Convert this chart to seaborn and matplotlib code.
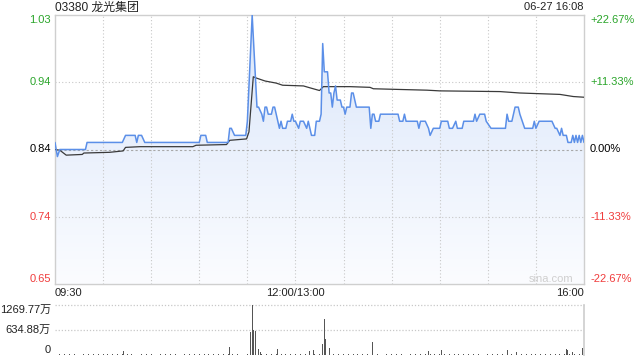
import numpy as np
import pandas as pd
import matplotlib
matplotlib.use("Agg")
import matplotlib.pyplot as plt
from matplotlib.colors import LinearSegmentedColormap
import seaborn as sns

# ---------------- data ----------------
title_text = "03380 龙光集团"
time_text = "06-27 16:08"
prev_close = 0.84
pct_steps = [-0.2267, -0.1133, 0.0, 0.1133, 0.2267]
price_labels = ["0.65", "0.74", "0.84", "0.94", "1.03"]
pct_labels = ["-22.67%", "-11.33%", "0.00%", "+11.33%", "+22.67%"]
x_tick_minutes = [0, 150, 330]
x_tick_labels = ["09:30", "12:00/13:00", "16:00"]
vol_tick_values = [0, 634.88, 1269.77]
vol_tick_labels = ["0", "634.88万", "1269.77万"]

price_minutes = [0, 1.5, 3, 19, 20, 42, 44, 50, 51, 52, 54, 56, 90, 91, 94, 95,
                 108, 109, 110, 112, 119, 120, 123, 126, 127, 129, 130, 131, 132,
                 133, 135, 136, 137, 138, 139, 140, 141, 142, 144, 145, 147, 148,
                 149, 150, 152, 153, 155, 157, 158, 159, 160, 162, 163, 165, 166,
                 167, 168, 170, 171, 172, 173, 174, 175, 176, 178, 179, 180, 181,
                 182, 184, 185, 186, 188, 196, 197, 198, 199, 200, 202, 203, 214,
                 215, 217, 218, 219, 226, 227, 228, 231, 233, 234, 236, 240, 241,
                 245, 246, 248, 250, 251, 254, 255, 261, 262, 263, 265, 268, 269,
                 272, 281, 282, 283, 285, 287, 289, 290, 293, 298, 299, 300, 302,
                 310, 312, 313, 315, 316, 317, 319, 320, 322, 323, 324, 325, 326,
                 327, 328, 329, 330]
price_values = [0.85, 0.83, 0.84, 0.84, 0.85, 0.85, 0.86, 0.86, 0.85, 0.86, 0.86, 0.85, 0.85, 0.86, 0.86, 0.85,
                0.85, 0.87, 0.87, 0.86, 0.86, 0.88, 1.03, 0.90, 0.90, 0.89, 0.88, 0.90, 0.90,
                0.89, 0.89, 0.90, 0.90, 0.89, 0.88, 0.87, 0.88, 0.87, 0.87, 0.88, 0.88, 0.89,
                0.88, 0.88, 0.87, 0.88, 0.88, 0.87, 0.88, 0.87, 0.86, 0.86, 0.88, 0.88, 0.89,
                0.99, 0.95, 0.95, 0.92, 0.92, 0.90, 0.92, 0.93, 0.91, 0.91, 0.90, 0.90, 0.89,
                0.90, 0.90, 0.92, 0.92, 0.90, 0.90, 0.87, 0.89, 0.89, 0.88, 0.88, 0.89, 0.89,
                0.88, 0.88, 0.89, 0.88, 0.88, 0.87, 0.88, 0.88, 0.87, 0.86, 0.87, 0.87, 0.88,
                0.88, 0.87, 0.87, 0.88, 0.87, 0.87, 0.88, 0.88, 0.89, 0.88, 0.89, 0.89, 0.88,
                0.87, 0.87, 0.89, 0.88, 0.88, 0.90, 0.90, 0.89, 0.87, 0.87, 0.88, 0.87, 0.88,
                0.88, 0.87, 0.87, 0.86, 0.87, 0.86, 0.86, 0.85, 0.85, 0.86, 0.85, 0.86, 0.85,
                0.86, 0.85, 0.86, 0.85]

avg_minutes = [0, 3, 7, 17, 18, 34, 42.5, 44, 53, 86, 88, 107, 109, 119.5, 121, 123.7,
               125.8, 131, 138, 142, 155, 158, 165, 167.4, 184, 196.5, 198.6, 215,
               232, 240, 277.6, 290, 315, 323.3, 330]
avg_values = [0.840, 0.839, 0.832, 0.833, 0.835, 0.836, 0.838, 0.843, 0.844, 0.844, 0.846,
              0.847, 0.853, 0.855, 0.865, 0.943, 0.941, 0.937, 0.934, 0.931, 0.930, 0.928,
              0.9235, 0.929, 0.929, 0.928, 0.926, 0.925, 0.924, 0.923, 0.922, 0.920,
              0.918, 0.915, 0.914]

# notable volume bars (万)
vol_major_minutes = [43, 109, 122, 123, 124, 125, 126, 127, 128, 131, 139, 159, 161,
                     167, 168, 169, 171, 198, 233, 241, 282, 288, 319, 320, 323, 329]
vol_major_values = [102, 211, 592, 1269.77, 635, 609, 490, 152, 84, 127, 152, 102, 127,
                    272, 914, 406, 185, 322, 102, 127, 127, 84, 152, 127, 84, 185]
# small background volume bars (万), every third minute
vol_minor_values = [30, 18, 22, 15, 26, 12, 20, 35, 14, 19, 24, 16, 28, 13, 21, 17, 25, 11,
                    23, 30, 15, 18, 27, 14, 20, 33, 12, 19, 22, 16, 24, 13, 29, 17, 21, 15,
                    26, 18, 23, 12, 20, 31, 16, 14, 25, 19, 22, 13, 27, 18, 15, 21, 24, 12,
                    30, 17, 20, 14, 26, 19, 23, 15, 28, 16, 21, 13, 25, 18, 22, 14, 27, 17,
                    20, 12, 24, 19, 31, 15, 23, 16, 26, 13, 21, 18, 29, 14, 22, 17, 25, 12,
                    20, 19, 27, 15, 23, 16, 28, 14, 24, 18, 21, 13, 26, 17, 22, 15, 30, 19,
                    25, 35]

# ---------------- style ----------------
sns.set_theme(style="white")
plt.rcParams['font.family'] = ['Liberation Sans', 'Noto Sans CJK SC', 'DejaVu Sans']

GREEN = '#2aa52a'
RED = '#f03c3c'
BLUE = '#5b8fe8'
GRID = '#c8c8c8'
FRAME = '#cfcfcf'
FS = 8

fig = plt.figure(figsize=(6.4, 3.6), dpi=100)
W, H = 640, 360
L, R = 55, 584
ax = fig.add_axes([L / W, 1 - 284 / H, (R - L) / W, (284 - 15) / H])
axv = fig.add_axes([L / W, 1 - 355 / H, (R - L) / W, (355 - 305) / H])

ymin = prev_close * (1 + pct_steps[0])
ymax = prev_close * (1 + pct_steps[-1])
xmax = x_tick_minutes[-1]

# gradient fill under price line
poly = ax.fill_between(price_minutes, price_values, ymin, color='none', lw=0)
grad = np.linspace(0, 1, 256).reshape(-1, 1)
cmap = LinearSegmentedColormap.from_list('g', ['#fbfcff', '#dae6fa'])
im = ax.imshow(grad, extent=[0, xmax, ymin, ymax], origin='lower', aspect='auto',
               cmap=cmap, zorder=1, interpolation='bilinear')
im.set_clip_path(poly.get_paths()[0], transform=ax.transData)

# grid
for m in range(30, xmax, 30):
    ax.axvline(m, color=GRID, lw=0.8, ls=(0, (1, 2)), zorder=2)
for s in (pct_steps[1], pct_steps[3]):
    ax.axhline(prev_close * (1 + s), color=GRID, lw=0.8, ls=(0, (1, 2)), zorder=2)
ax.axhline(prev_close, color='#a8a8a8', lw=0.8, ls=(0, (2, 2)), zorder=2)

df_p = pd.DataFrame({'minute': price_minutes, 'price': price_values})
df_a = pd.DataFrame({'minute': avg_minutes, 'avg': avg_values})
sns.lineplot(data=df_a, x='minute', y='avg', ax=ax, color='#3a3a3a', lw=0.9,
             estimator=None, sort=False, zorder=4)
sns.lineplot(data=df_p, x='minute', y='price', ax=ax, color=BLUE, lw=1.1,
             estimator=None, sort=False, zorder=5)

ax.set_xlim(0, xmax)
ax.set_ylim(ymin, ymax)
ax.set_xticks([])
ax.set_yticks([])
ax.set_xlabel('')
ax.set_ylabel('')
for sp in ax.spines.values():
    sp.set_color(FRAME)
    sp.set_linewidth(1.0)

# y labels
ytr = ax.get_yaxis_transform()
colors = [RED, RED, 'black', GREEN, GREEN]
vas = ['bottom', 'center', 'center', 'center', 'top']
for s, lab, plab, c, va in zip(pct_steps, price_labels, pct_labels, colors, vas):
    y = prev_close * (1 + s)
    ax.text(-4 / 529, y, lab, transform=ytr, ha='right', va=va, color=c, fontsize=FS)
    ax.text(1 + 6 / 529, y, plab, transform=ytr, ha='left', va=va, color=c, fontsize=FS)

# x labels
xtr = ax.get_xaxis_transform()
for m, lab, ha in zip(x_tick_minutes, x_tick_labels, ['left', 'center', 'right']):
    ax.text(m, -9 / 269, lab, transform=xtr, ha=ha, va='center', fontsize=FS, color='#222222')

# title & time
ax.text(0, 1 + 7.5 / 269, title_text, transform=ax.transAxes, ha='left', va='center',
        fontsize=8.6, color='#222222')
ax.text(1, 1 + 7.5 / 269, time_text, transform=ax.transAxes, ha='right', va='center',
        fontsize=FS, color='#222222')
ax.text(0.979, 0.02, 'sina.com', transform=ax.transAxes, ha='right', va='center',
        fontsize=FS, color='#cfcfcf')

# volume panel
vol = {3 * i: v for i, v in enumerate(vol_minor_values) if 3 * i <= xmax}
for m, v in zip(vol_major_minutes, vol_major_values):
    vol[m] = v
vm = sorted(vol)
axv.bar(vm, [vol[m] for m in vm], width=0.6, color='#555555', linewidth=0, zorder=3)
axv.set_xlim(0, xmax)
axv.set_ylim(0, vol_tick_values[-1])
axv.set_xticks([])
axv.set_yticks([])
for k in ('left', 'bottom', 'top'):
    axv.spines[k].set_visible(False)
axv.spines['right'].set_color(FRAME)
axv.axhline(vol_tick_values[-1], color=GRID, lw=0.9, ls=(0, (1, 1.5)), zorder=1, clip_on=False)
axv.axhline(vol_tick_values[1], color=GRID, lw=0.9, ls=(0, (1, 1.5)), zorder=1)
vtr = axv.get_yaxis_transform()
for v, lab, va in zip(vol_tick_values, vol_tick_labels, ['bottom', 'center', 'top']):
    axv.text(-4 / 529, v, lab, transform=vtr, ha='right', va=va, fontsize=FS, color='#222222')

fig.savefig('out.png', dpi=100)
